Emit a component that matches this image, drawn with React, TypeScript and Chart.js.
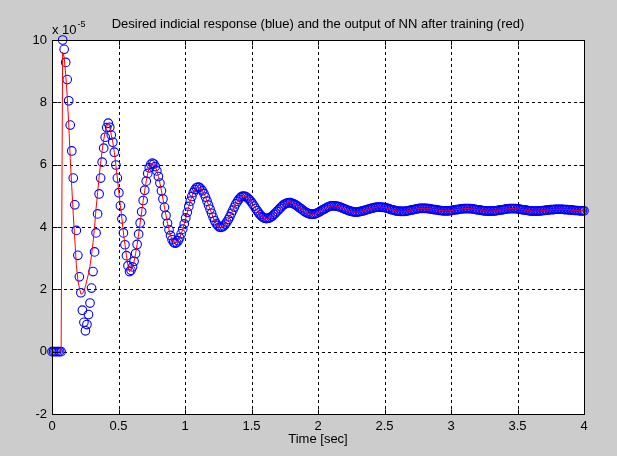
import React, { useEffect, useRef } from 'react';
import { Chart, registerables } from 'chart.js';

Chart.register(...registerables);

// ---- Data (values in units of 1e-5) ----
const TIME_START = 0;
const TIME_END = 4;

// Desired indicial response (blue circles), uniformly sampled over [0, 4] s
const desired: number[] = [
  0, 0, 0, 0, 0, 0, 0,
  10, 9.7, 9.28, 8.73, 8.05, 7.27, 6.44, 5.57, 4.71, 3.89, 3.09, 2.4, 1.89, 1.33, 0.94, 0.67,
  0.87, 1.19, 1.56, 2.04, 2.57, 3.2, 3.81, 4.42, 5.06, 5.57, 6.08, 6.53, 6.88, 7.19, 7.33,
  7.2, 6.95, 6.72, 6.4, 5.99, 5.57, 5.1, 4.68, 4.26, 3.81, 3.43, 3.08, 2.76, 2.57,
  2.61, 2.72, 2.9, 3.15, 3.44, 3.77, 4.13, 4.49, 4.85, 5.18, 5.47, 5.72, 5.9, 6.01, 6.05,
  6.02, 5.94, 5.8, 5.62, 5.41, 5.16, 4.9, 4.63, 4.37, 4.12, 3.91, 3.73, 3.59, 3.51, 3.48,
  3.5, 3.56, 3.65, 3.78, 3.93, 4.1, 4.29, 4.47, 4.66, 4.83, 4.98, 5.11, 5.2, 5.26, 5.28,
  5.27, 5.22, 5.16, 5.07, 4.96, 4.83, 4.7, 4.57, 4.44, 4.31, 4.2, 4.11, 4.05, 4.0, 3.99,
  4.0, 4.03, 4.09, 4.16, 4.24, 4.33, 4.44, 4.54, 4.64, 4.74, 4.82, 4.89, 4.95, 4.98, 4.99,
  4.98, 4.96, 4.92, 4.87, 4.81, 4.74, 4.67, 4.59, 4.52, 4.45, 4.39, 4.34, 4.3, 4.28, 4.27,
  4.28, 4.29, 4.32, 4.35, 4.4, 4.45, 4.5, 4.55, 4.6, 4.65, 4.7, 4.73, 4.76, 4.77, 4.78,
  4.78, 4.76, 4.74, 4.72, 4.69, 4.65, 4.61, 4.58, 4.54, 4.5, 4.47, 4.45, 4.43, 4.41, 4.41,
  4.41, 4.42, 4.44, 4.46, 4.49, 4.52, 4.55, 4.57, 4.6, 4.63, 4.65, 4.67, 4.68, 4.68,
  4.68, 4.67, 4.66, 4.65, 4.63, 4.61, 4.59, 4.57, 4.55, 4.53, 4.51, 4.5, 4.49, 4.48, 4.48,
  4.48, 4.49, 4.5, 4.51, 4.52, 4.54, 4.55, 4.57, 4.58, 4.6, 4.61, 4.62, 4.63, 4.64, 4.64,
  4.64, 4.63, 4.63, 4.62, 4.61, 4.6, 4.58, 4.56, 4.55, 4.54, 4.52, 4.51, 4.51, 4.5, 4.5,
  4.5, 4.5, 4.51, 4.52, 4.53, 4.54, 4.55, 4.56, 4.57, 4.58, 4.59, 4.6, 4.6, 4.6,
  4.6, 4.6, 4.59, 4.59, 4.58, 4.57, 4.56, 4.56, 4.55, 4.54, 4.53, 4.53, 4.52, 4.52, 4.52,
  4.52, 4.52, 4.53, 4.53, 4.54, 4.55, 4.56, 4.56, 4.57, 4.58, 4.58, 4.59, 4.59, 4.59,
  4.59, 4.59, 4.58, 4.58, 4.57, 4.56, 4.55, 4.55, 4.54, 4.53, 4.52, 4.52, 4.51, 4.51, 4.51,
  4.51, 4.51, 4.52, 4.52, 4.53, 4.54, 4.55, 4.55, 4.56, 4.57, 4.58, 4.58, 4.59, 4.59, 4.59,
  4.59, 4.59, 4.58, 4.58, 4.57, 4.56, 4.55, 4.55, 4.54, 4.53, 4.52, 4.52, 4.51, 4.51, 4.51,
  4.51, 4.51, 4.52, 4.52, 4.53, 4.53, 4.54, 4.54, 4.55, 4.56, 4.56, 4.56, 4.57, 4.57, 4.57,
  4.57, 4.57, 4.57, 4.56, 4.56, 4.56, 4.55, 4.55, 4.54, 4.54, 4.53, 4.53, 4.53, 4.52, 4.52, 4.52, 4.52,
];

// NN output after training (red line): differs from the desired response only at the start
const nnEarly: number[] = [
  0, 0, 0, 0, 0, 0, 0,
  9.6, 9.45, 8.9, 8.2, 7.3, 6.2, 5.3, 4.4, 3.6, 2.8, 2.3, 2.05, 1.85, 1.85, 1.95,
  2.1, 2.3, 2.5, 2.75, 3.1, 3.5, 4.0, 4.6, 5.1, 5.6, 6.05, 6.45, 6.8, 7.05, 7.22, 7.33,
];
const nnOutput: number[] = nnEarly.concat(desired.slice(nnEarly.length));

const X_TICKS = [0, 0.5, 1, 1.5, 2, 2.5, 3, 3.5, 4];
const Y_TICKS = [-2, 0, 2, 4, 6, 8, 10];
const TITLE = 'Desired indicial response (blue) and the output of NN after training (red)';
const X_LABEL = 'Time [sec]';
const Y_EXP_BASE = 'x 10';
const Y_EXP = '-5';

const FONT = '"Liberation Sans", Arial, sans-serif';

function toPoints(values: number[]) {
  const step = (TIME_END - TIME_START) / (desired.length - 1);
  return values.map((v, i) => ({ x: TIME_START + i * step, y: v }));
}

const matlabPlugin = {
  id: 'matlabAxes',
  beforeDraw(chart: any) {
    const { ctx, chartArea: a } = chart;
    ctx.save();
    ctx.fillStyle = '#ffffff';
    ctx.fillRect(a.left, a.top, a.right - a.left, a.bottom - a.top);
    ctx.restore();
  },
  beforeDatasetsDraw(chart: any) {
    const { ctx, chartArea: a, scales } = chart;
    ctx.save();
    ctx.strokeStyle = '#000000';
    ctx.lineWidth = 1;
    ctx.setLineDash([3, 3]);
    X_TICKS.forEach((t) => {
      if (t <= TIME_START || t >= TIME_END) return;
      const x = Math.round(scales.x.getPixelForValue(t)) + 0.5;
      ctx.beginPath();
      ctx.moveTo(x, a.top);
      ctx.lineTo(x, a.bottom);
      ctx.stroke();
    });
    Y_TICKS.forEach((v) => {
      if (v <= Y_TICKS[0] || v >= Y_TICKS[Y_TICKS.length - 1]) return;
      const y = Math.round(scales.y.getPixelForValue(v)) + 0.5;
      ctx.beginPath();
      ctx.moveTo(a.left, y);
      ctx.lineTo(a.right, y);
      ctx.stroke();
    });
    ctx.restore();
  },
  afterDatasetsDraw(chart: any) {
    const { ctx, chartArea: a, scales } = chart;
    ctx.save();
    ctx.strokeStyle = '#000000';
    ctx.lineWidth = 1;
    ctx.setLineDash([]);
    const L = Math.round(a.left) + 0.5;
    const R = Math.round(a.right) + 0.5;
    const T = Math.round(a.top) + 0.5;
    const B = Math.round(a.bottom) + 0.5;
    ctx.strokeRect(L, T, R - L, B - T);
    const tl = 5;
    ctx.beginPath();
    X_TICKS.forEach((t) => {
      const x = Math.round(scales.x.getPixelForValue(t)) + 0.5;
      ctx.moveTo(x, B);
      ctx.lineTo(x, B - tl);
      ctx.moveTo(x, T);
      ctx.lineTo(x, T + tl);
    });
    Y_TICKS.forEach((v) => {
      const y = Math.round(scales.y.getPixelForValue(v)) + 0.5;
      ctx.moveTo(L, y);
      ctx.lineTo(L + tl, y);
      ctx.moveTo(R, y);
      ctx.lineTo(R - tl, y);
    });
    ctx.stroke();
    ctx.restore();
  },
  afterDraw(chart: any) {
    const { ctx, chartArea: a } = chart;
    const cx = (a.left + a.right) / 2;
    ctx.save();
    ctx.fillStyle = '#000000';
    ctx.textAlign = 'center';
    ctx.textBaseline = 'alphabetic';
    ctx.font = `13px ${FONT}`;
    ctx.fillText(TITLE, cx, 28);
    ctx.fillText(X_LABEL, cx, 443);
    ctx.textAlign = 'left';
    ctx.font = `13px ${FONT}`;
    ctx.fillText(Y_EXP_BASE, a.left, 34);
    const w = ctx.measureText(Y_EXP_BASE).width;
    ctx.font = `9px ${FONT}`;
    ctx.fillText(Y_EXP, a.left + w + 1, 27);
    ctx.restore();
  },
};

export default function App() {
  const canvasRef = useRef<HTMLCanvasElement | null>(null);

  useEffect(() => {
    const canvas = canvasRef.current;
    if (!canvas) return;
    const chart = new Chart(canvas, {
      type: 'line',
      data: {
        datasets: [
          {
            label: 'NN output',
            data: toPoints(nnOutput),
            borderColor: '#ff0000',
            borderWidth: 1,
            pointRadius: 0,
            tension: 0,
            fill: false,
          },
          {
            label: 'Desired',
            data: toPoints(desired),
            showLine: false,
            pointRadius: 4.3,
            pointStyle: 'circle',
            pointBorderColor: '#0000ff',
            pointBackgroundColor: 'rgba(0,0,0,0)',
            pointBorderWidth: 1.1,
            borderColor: '#0000ff',
            clip: false as any,
          },
        ],
      },
      options: {
        animation: false,
        responsive: false,
        maintainAspectRatio: false,
        devicePixelRatio: 1,
        layout: { padding: { top: 40, right: 33, left: 0, bottom: 0 } },
        plugins: {
          legend: { display: false },
          tooltip: { enabled: false },
          title: { display: false },
        },
        events: [],
        scales: {
          x: {
            type: 'linear',
            min: TIME_START,
            max: TIME_END,
            grid: { display: false, drawTicks: false, tickLength: 0 },
            border: { display: false },
            ticks: {
              stepSize: 0.5,
              autoSkip: false,
              maxRotation: 0,
              padding: 5,
              color: '#000000',
              font: { family: FONT, size: 13 },
              callback: (value: any) => String(value),
            },
            afterFit: (scale: any) => {
              scale.height = 42;
            },
          },
          y: {
            type: 'linear',
            min: Y_TICKS[0],
            max: Y_TICKS[Y_TICKS.length - 1],
            grid: { display: false, drawTicks: false, tickLength: 0 },
            border: { display: false },
            ticks: {
              stepSize: 2,
              padding: 5,
              color: '#000000',
              font: { family: FONT, size: 13 },
              callback: (value: any) => String(value),
            },
            afterFit: (scale: any) => {
              scale.width = 52;
            },
          },
        },
      },
      plugins: [matlabPlugin],
    });
    return () => chart.destroy();
  }, []);

  return (
    <div
      style={{
        position: 'fixed',
        left: 0,
        top: 0,
        width: 617,
        height: 456,
        background: '#cccccc',
      }}
    >
      <canvas ref={canvasRef} width={617} height={456} style={{ width: 617, height: 456, display: 'block' }} />
    </div>
  );
}
